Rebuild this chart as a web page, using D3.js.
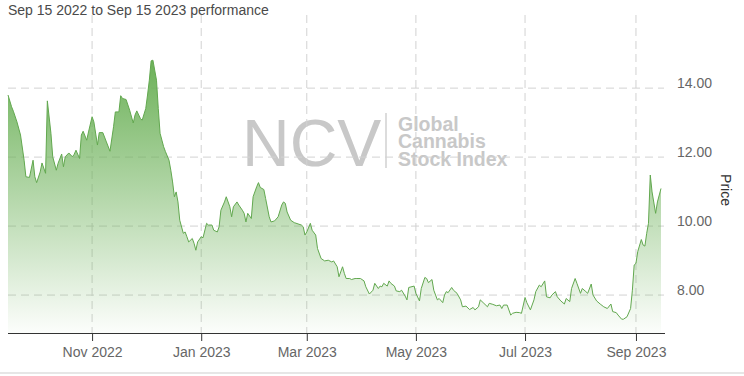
<!DOCTYPE html>
<html><head><meta charset="utf-8">
<script src="https://cdn.jsdelivr.net/npm/d3@7"></script>
<style>
body{margin:0;background:#fff;}
svg{display:block;font-family:"Liberation Sans",Arial,Helvetica,sans-serif;}
</style>
</head><body>
<svg id="chart" width="744" height="376"></svg>
<script>
const titleText = "Sep 15 2022 to Sep 15 2023 performance";
const yAxisTitle = "Price";
const watermarkBig = "NCV";
const watermarkLines = ["Global", "Cannabis", "Stock Index"];
const xTickDates = ["2022-11-01","2023-01-01","2023-03-01","2023-05-01","2023-07-01","2023-09-01"];
const yTickValues = [8, 10, 12, 14];
const startDate = "2022-09-15", endDate = "2023-09-15";

const dates = [
"2022-09-15","2022-09-17","2022-09-18","2022-09-20","2022-09-22","2022-09-24","2022-09-25","2022-09-27","2022-09-29","2022-09-30",
"2022-10-01","2022-10-03","2022-10-04","2022-10-06","2022-10-07","2022-10-09","2022-10-10","2022-10-12","2022-10-13","2022-10-15",
"2022-10-16","2022-10-17","2022-10-19","2022-10-21","2022-10-22","2022-10-23","2022-10-25","2022-10-26","2022-10-27","2022-10-29",
"2022-10-30","2022-11-01","2022-11-02","2022-11-04","2022-11-05","2022-11-07","2022-11-09","2022-11-11","2022-11-13","2022-11-14",
"2022-11-16","2022-11-17","2022-11-18","2022-11-20","2022-11-22","2022-11-24","2022-11-25","2022-11-26","2022-11-28","2022-11-29",
"2022-12-01","2022-12-02","2022-12-03","2022-12-04","2022-12-05","2022-12-07","2022-12-08","2022-12-09","2022-12-11","2022-12-12",
"2022-12-14","2022-12-15","2022-12-16","2022-12-17","2022-12-18","2022-12-19","2022-12-20","2022-12-22","2022-12-23","2022-12-24",
"2022-12-25","2022-12-27","2022-12-28","2022-12-29","2022-12-30","2023-01-01","2023-01-02","2023-01-04","2023-01-05","2023-01-07",
"2023-01-08","2023-01-10","2023-01-11","2023-01-12","2023-01-14","2023-01-15","2023-01-17","2023-01-18","2023-01-19","2023-01-21",
"2023-01-22","2023-01-24","2023-01-25","2023-01-26","2023-01-27","2023-01-29","2023-01-30","2023-02-01","2023-02-02","2023-02-03",
"2023-02-05","2023-02-06","2023-02-08","2023-02-09","2023-02-11","2023-02-13","2023-02-15","2023-02-16","2023-02-17","2023-02-18",
"2023-02-20","2023-02-22","2023-02-26","2023-02-27","2023-02-28","2023-03-01","2023-03-03","2023-03-04","2023-03-06","2023-03-07",
"2023-03-09","2023-03-11","2023-03-13","2023-03-15","2023-03-16","2023-03-18","2023-03-19","2023-03-21","2023-03-22","2023-03-23",
"2023-03-25","2023-03-26","2023-03-28","2023-03-29","2023-03-31","2023-04-02","2023-04-03","2023-04-05","2023-04-07","2023-04-08",
"2023-04-10","2023-04-11","2023-04-12","2023-04-13","2023-04-15","2023-04-16","2023-04-17","2023-04-19","2023-04-20","2023-04-22",
"2023-04-23","2023-04-25","2023-04-26","2023-04-27","2023-04-30","2023-05-01","2023-05-03","2023-05-04","2023-05-06","2023-05-07",
"2023-05-08","2023-05-10","2023-05-11","2023-05-13","2023-05-14","2023-05-16","2023-05-17","2023-05-18","2023-05-19","2023-05-21",
"2023-05-22","2023-05-24","2023-05-26","2023-05-27","2023-05-29","2023-05-31","2023-06-02","2023-06-03","2023-06-05","2023-06-06",
"2023-06-08","2023-06-10","2023-06-11","2023-06-13","2023-06-15","2023-06-17","2023-06-18","2023-06-19","2023-06-21","2023-06-23",
"2023-06-24","2023-06-26","2023-06-28","2023-06-29","2023-07-01","2023-07-02","2023-07-04","2023-07-06","2023-07-07","2023-07-09",
"2023-07-10","2023-07-12","2023-07-13","2023-07-15","2023-07-16","2023-07-18","2023-07-19","2023-07-21","2023-07-23","2023-07-24",
"2023-07-26","2023-07-27","2023-07-29","2023-07-30","2023-08-01","2023-08-02","2023-08-04","2023-08-05","2023-08-07","2023-08-08",
"2023-08-10","2023-08-12","2023-08-14","2023-08-16","2023-08-18","2023-08-19","2023-08-21","2023-08-22","2023-08-24","2023-08-25",
"2023-08-27","2023-08-29","2023-08-30","2023-08-31","2023-09-01","2023-09-02","2023-09-04","2023-09-05","2023-09-06","2023-09-07",
"2023-09-08","2023-09-09","2023-09-10","2023-09-12","2023-09-13","2023-09-15"
];
const prices = [
13.80,13.46,13.33,13.02,12.64,11.91,11.43,11.41,11.91,11.43,
11.26,11.57,11.83,11.53,13.63,12.69,12.01,11.62,11.82,12.09,
11.72,12.01,12.12,12.01,12.08,12.20,11.96,12.64,12.75,12.49,
12.73,13.17,13.02,12.35,12.71,12.71,12.44,12.17,12.88,13.31,
13.31,13.78,13.70,13.67,13.36,12.99,13.22,13.34,13.12,13.07,
13.41,13.80,14.23,14.79,14.81,14.23,13.41,12.69,12.30,12.16,
11.91,11.62,11.28,10.85,10.99,10.70,10.17,9.79,9.83,9.69,
9.54,9.64,9.50,9.30,9.54,9.69,9.66,10.08,10.03,10.03,
9.88,9.83,9.98,10.46,10.70,10.85,10.56,10.27,10.56,10.70,
10.61,10.46,10.37,10.12,10.37,10.22,10.85,11.14,11.26,11.12,
11.06,10.80,10.27,10.12,10.15,10.27,10.61,10.70,10.66,10.41,
10.17,10.10,10.03,9.98,9.74,9.83,10.08,9.88,9.74,9.35,
9.06,8.99,9.01,8.96,8.99,8.82,8.53,8.82,8.63,8.48,
8.48,8.45,8.48,8.48,8.48,8.41,8.24,8.03,8.14,8.34,
8.19,8.26,8.24,8.34,8.26,8.41,8.34,8.26,8.12,8.10,
8.14,7.97,7.86,8.22,8.26,8.05,7.83,8.19,8.51,8.48,
8.36,8.45,8.14,7.86,7.90,7.78,8.00,8.10,8.07,8.22,
8.14,8.05,7.86,7.66,7.68,7.58,7.64,7.57,7.66,7.86,
7.76,7.66,7.76,7.73,7.69,7.71,7.61,7.71,7.71,7.42,
7.47,7.50,7.49,7.47,7.93,7.78,7.57,7.86,8.10,8.29,
8.24,8.41,7.95,7.92,8.00,8.10,7.95,7.83,7.74,7.90,
7.81,8.19,8.48,8.34,8.05,8.19,8.10,8.05,8.32,8.00,
7.83,7.74,7.66,7.61,7.74,7.52,7.49,7.42,7.30,7.30,
7.37,7.61,8.14,8.87,8.92,9.26,9.61,9.45,9.42,9.79,
10.08,11.48,10.99,10.37,10.70,11.09
];

const parse = d3.timeParse("%Y-%m-%d");
const data = dates.map((d, i) => ({date: parse(d), value: prices[i]}));

const W = 744, H = 376;
const pLeft = 8, pRight = 661, plotRight = 664, pTop = 15, pBottom = 333;
const svg = d3.select("#chart");

const x = d3.scaleTime().domain([parse(startDate), parse(endDate)]).range([pLeft, pRight]);
const y = d3.scaleLinear().domain([6.9, 16.12]).range([pBottom, pTop]);

// gradient
const defs = svg.append("defs");
const grad = defs.append("linearGradient").attr("id", "areaGrad")
  .attr("gradientUnits", "userSpaceOnUse")
  .attr("x1", 0).attr("x2", 0)
  .attr("y1", y(d3.max(prices))).attr("y2", pBottom);
grad.append("stop").attr("offset", 0).attr("stop-color", "#6cb158").attr("stop-opacity", 1);
grad.append("stop").attr("offset", 1).attr("stop-color", "#6cb158").attr("stop-opacity", 0.02);

// title
svg.append("text").attr("x", 8).attr("y", 14.5)
  .attr("font-size", 14).attr("fill", "#4a4a4a").text(titleText);

// watermark
const wm = svg.append("g").attr("fill", "#c8c8c8");
wm.append("text").attr("x", 242).attr("y", 166).attr("font-size", 66).text(watermarkBig);
svg.append("line").attr("x1", 386).attr("x2", 386).attr("y1", 113).attr("y2", 168)
  .attr("stroke", "#d0d0d0").attr("stroke-width", 1.5);
const wmText = wm.append("text").attr("font-size", 19.5).attr("font-weight", "bold");
watermarkLines.forEach((t, i) => {
  wmText.append("tspan").attr("x", 398).attr("y", 130.5 + i * 17.5).text(t);
});

// grid
const dash = "8,5";
svg.append("g").selectAll("line").data(yTickValues).join("line")
  .attr("x1", pLeft).attr("x2", plotRight)
  .attr("y1", d => y(d)).attr("y2", d => y(d))
  .attr("stroke", "#d2d2d2").attr("stroke-dasharray", dash);
const xTicks = xTickDates.map(parse);
svg.append("g").selectAll("line").data(xTicks).join("line")
  .attr("x1", d => x(d)).attr("x2", d => x(d))
  .attr("y1", pTop).attr("y2", pBottom)
  .attr("stroke", "#d2d2d2").attr("stroke-dasharray", dash);

// area + line
const area = d3.area().x(d => x(d.date)).y0(pBottom).y1(d => y(d.value));
const line = d3.line().x(d => x(d.date)).y(d => y(d.value));
svg.append("path").datum(data).attr("d", area).attr("fill", "url(#areaGrad)");
svg.append("path").datum(data).attr("d", line).attr("fill", "none")
  .attr("stroke", "#62a84f").attr("stroke-width", 1).attr("stroke-linejoin", "round");

// x axis
const xAxis = d3.axisBottom(x).tickValues(xTicks).tickFormat(d3.timeFormat("%b %Y"))
  .tickSize(8).tickPadding(6);
const gx = svg.append("g").attr("transform", `translate(0,${pBottom})`).call(xAxis);
gx.select(".domain").remove();
gx.selectAll(".tick line").attr("stroke", "#333");
gx.selectAll(".tick text").attr("fill", "#666").attr("font-size", 14)
  .attr("font-family", "'Liberation Sans',Arial,sans-serif");
svg.append("line").attr("x1", pLeft).attr("x2", plotRight + 1).attr("y1", pBottom + 0.5).attr("y2", pBottom + 0.5)
  .attr("stroke", "#333").attr("stroke-width", 1);

// y axis labels (right)
svg.append("g").selectAll("text").data(yTickValues).join("text")
  .attr("x", 677).attr("y", d => y(d))
  .attr("font-size", 14).attr("fill", "#666")
  .text(d => d3.format(".2f")(d));

// y axis title
svg.append("text").attr("transform", `translate(721,190) rotate(90)`)
  .attr("text-anchor", "middle").attr("font-size", 14).attr("fill", "#333")
  .text(yAxisTitle);

// bottom border
svg.append("line").attr("x1", 0).attr("x2", W).attr("y1", 373).attr("y2", 373)
  .attr("stroke", "#e6e6e6").attr("stroke-width", 2);
</script>
</body></html>
